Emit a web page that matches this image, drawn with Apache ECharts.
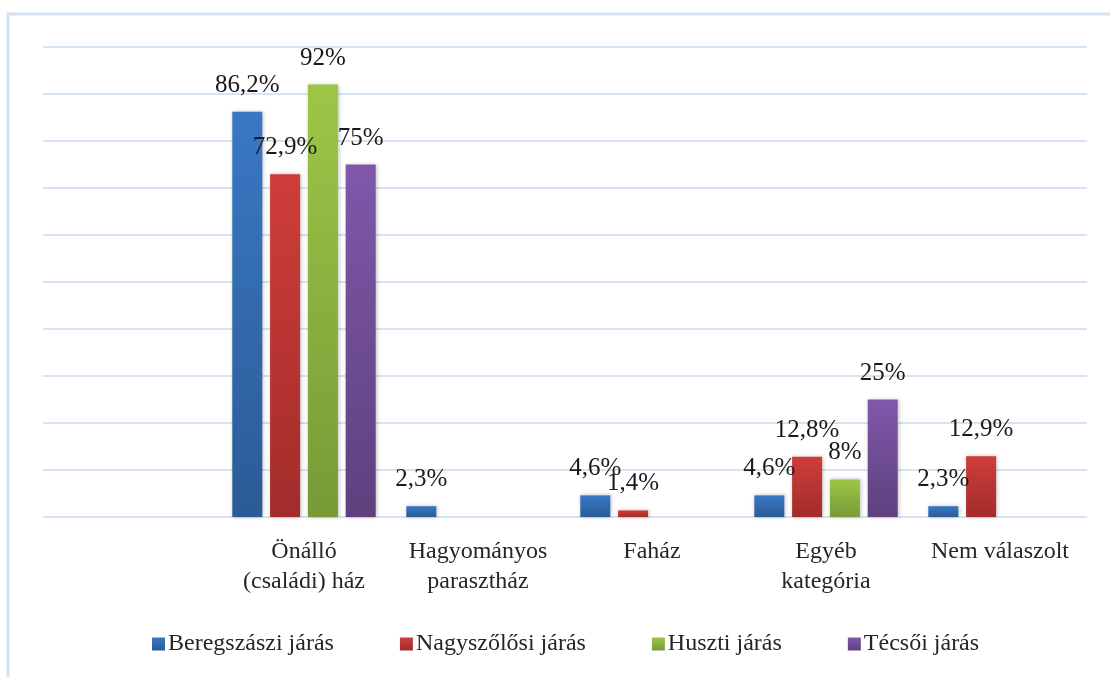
<!DOCTYPE html>
<html>
<head>
<meta charset="utf-8">
<script src="https://cdn.jsdelivr.net/npm/echarts@6/dist/echarts.min.js"></script>
<style>
html,body{margin:0;padding:0;background:#fff;}
#chart{width:1110px;height:677px;}
</style>
</head>
<body>
<div id="chart"></div>
<script>
const categories = ['', 'Önálló\n(családi) ház', 'Hagyományos\nparasztház', 'Faház', 'Egyéb\nkategória', 'Nem válaszolt'];
const seriesNames = ['Beregszászi járás', 'Nagyszőlősi járás', 'Huszti járás', 'Técsői járás'];
const beregszasz = [null, 86.2, 2.3, 4.6, 4.6, 2.3];
const nagyszolos = [null, 72.9, null, 1.4, 12.8, 12.9];
const huszt = [null, 92, null, null, 8, null];
const tecso = [null, 75, null, null, 25, null];
const seriesValues = [beregszasz, nagyszolos, huszt, tecso];
const gradients = [
  ['#3a78c4', '#2b5b96'],
  ['#cf3d3a', '#a22c2a'],
  ['#9dc647', '#789a37'],
  ['#7f58aa', '#5e407e']
];
const FONT = '"Liberation Serif", "Times New Roman", serif';

function grad(c) {
  return new echarts.graphic.LinearGradient(0, 0, 0, 1, [
    { offset: 0, color: c[0] }, { offset: 1, color: c[1] }
  ]);
}

const chart = echarts.init(document.getElementById('chart'), null, { renderer: 'canvas' });
const option = {
  backgroundColor: '#ffffff',
  animation: false,
  graphic: [{
    type: 'rect',
    shape: { x: 8, y: 14, width: 1200, height: 800 },
    style: { fill: 'none', stroke: '#d3e1f2', lineWidth: 3 },
    silent: true
  }],
  grid: { left: 43, right: 23, top: 47, bottom: 160, containLabel: false },
  legend: {
    data: seriesNames,
    left: 147,
    top: 627,
    itemWidth: 13,
    itemHeight: 13,
    itemGap: 66,
    icon: 'rect',
    textStyle: { fontFamily: FONT, fontSize: 24, color: '#262626', padding: [0, 0, 0, -2] }
  },
  xAxis: {
    type: 'category',
    data: categories,
    axisLine: { show: false },
    axisTick: { show: false },
    axisLabel: {
      interval: 0,
      margin: 20,
      fontFamily: FONT,
      fontSize: 24,
      lineHeight: 30,
      color: '#262626'
    }
  },
  yAxis: {
    type: 'value',
    min: 0,
    max: 100,
    interval: 10,
    axisLabel: { show: false },
    axisLine: { show: false },
    axisTick: { show: false },
    splitLine: { lineStyle: { color: '#d6e3f3', width: 2 } }
  },
  series: seriesValues.map((vals, i) => ({
    name: seriesNames[i],
    type: 'bar',
    data: vals,
    barWidth: 30,
    barGap: '26%',
    itemStyle: {
      color: grad(gradients[i]),
      shadowColor: 'rgba(0,0,0,0.25)',
      shadowBlur: 4,
      shadowOffsetX: 1
    },
    label: {
      show: true,
      position: 'top',
      distance: 14,
      fontFamily: FONT,
      fontSize: 25,
      color: '#1a1a1a',
      formatter: p => (p.value == null ? '' : String(p.value).replace('.', ',') + '%')
    }
  }))
};
chart.setOption(option);
</script>
</body>
</html>
